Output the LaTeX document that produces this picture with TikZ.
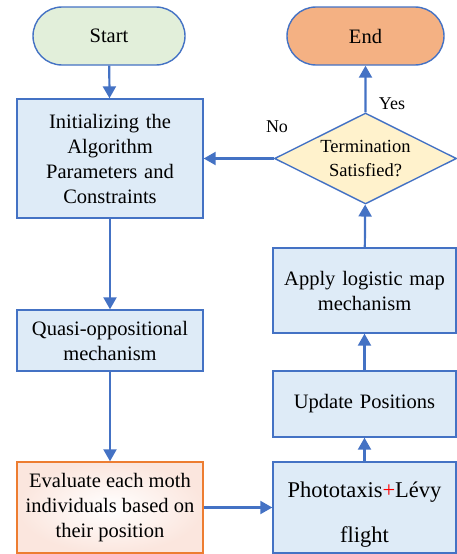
\documentclass[tikz,border=0pt]{standalone}
\usepackage{fontspec}
\setmainfont{Liberation Serif}
\usetikzlibrary{arrows.meta,shapes.geometric,shapes.misc}
\definecolor{edgeblue}{HTML}{4472C4}
\definecolor{boxblue}{HTML}{DEEBF7}
\definecolor{startgreen}{HTML}{E2EFDA}
\definecolor{endorange}{HTML}{F4B183}
\definecolor{diayellow}{HTML}{FFF2CC}
\definecolor{evalorange}{HTML}{ED7D31}
\definecolor{evalpink}{HTML}{FBE6DE}
\tikzset{
  base/.style={draw=edgeblue, line width=1.4pt, align=center, inner sep=0pt},
  term/.style={base, rounded rectangle, minimum height=58pt},
  procbox/.style={base, rectangle, fill=boxblue, text width=#1},
  procbox/.default=170pt,
  flow/.style={draw=edgeblue, line width=2.2pt, -{Triangle[length=12pt,width=13pt]}},
  txt/.style={font=\fontsize{20.5pt}{25pt}\selectfont},
}
\begin{document}
\begin{tikzpicture}[x=1pt,y=-1pt]
\useasboundingbox (0,0) rectangle (456,554);
\node[term, fill=startgreen, minimum width=152pt, txt] (start) at (109,36) {Start};
\node[term, fill=endorange, minimum width=157pt, txt] (end) at (365.5,36) {End};
\node[procbox, minimum width=186pt, minimum height=119pt, txt] (init) at (110,158.5)
  {Initializing the\\Algorithm\\Parameters and\\Constraints};
\node[procbox, minimum width=186pt, minimum height=61pt, txt] (quasi) at (110,340.5)
  {Quasi-oppositional\\mechanism};
\node[base, rectangle, draw=evalorange, inner color=white, outer color=evalpink,
  minimum width=186pt, minimum height=91pt, txt] (eval) at (110,507.5)
  {Evaluate each moth\\individuals based on\\their position};
\node[base, diamond, fill=diayellow, minimum width=182pt, minimum height=91pt] (dec) at (365.5,158.5) {};
\node[align=center, font=\fontsize{18.5pt}{24pt}\selectfont] (dect) at (dec) {Termination\\Satisfied?};
\node[procbox, minimum width=183pt, minimum height=85pt, txt] (apply) at (364.5,290.5)
  {Apply logistic map\\mechanism};
\node[procbox, minimum width=183pt, minimum height=66pt, txt] (upd) at (364.5,404)
  {Update Positions};
\node[procbox, minimum width=183pt, minimum height=91pt] (photo) at (364.5,507.5) {};
\node[align=center, font=\fontsize{22.5pt}{45pt}\selectfont] (photot) at ([yshift=-7pt]photo.center)
  {Phototaxis{\color{red}+}Lévy\\flight};
\node[font=\fontsize{18pt}{20pt}\selectfont] (yes) at (392,104) {Yes};
\node[font=\fontsize{18pt}{20pt}\selectfont] (no) at (277,127) {No};
\draw[flow] (start) -- (init);
\draw[flow] (init) -- (quasi);
\draw[flow] (quasi) -- (eval);
\draw[flow] (eval) -- (photo);
\draw[flow] (photo) -- (upd);
\draw[flow] (upd) -- (apply);
\draw[flow] (apply) -- (dec);
\draw[flow] (dec) -- (end);
\draw[flow] (dec.west) -- (init.east);
\end{tikzpicture}
\end{document}
